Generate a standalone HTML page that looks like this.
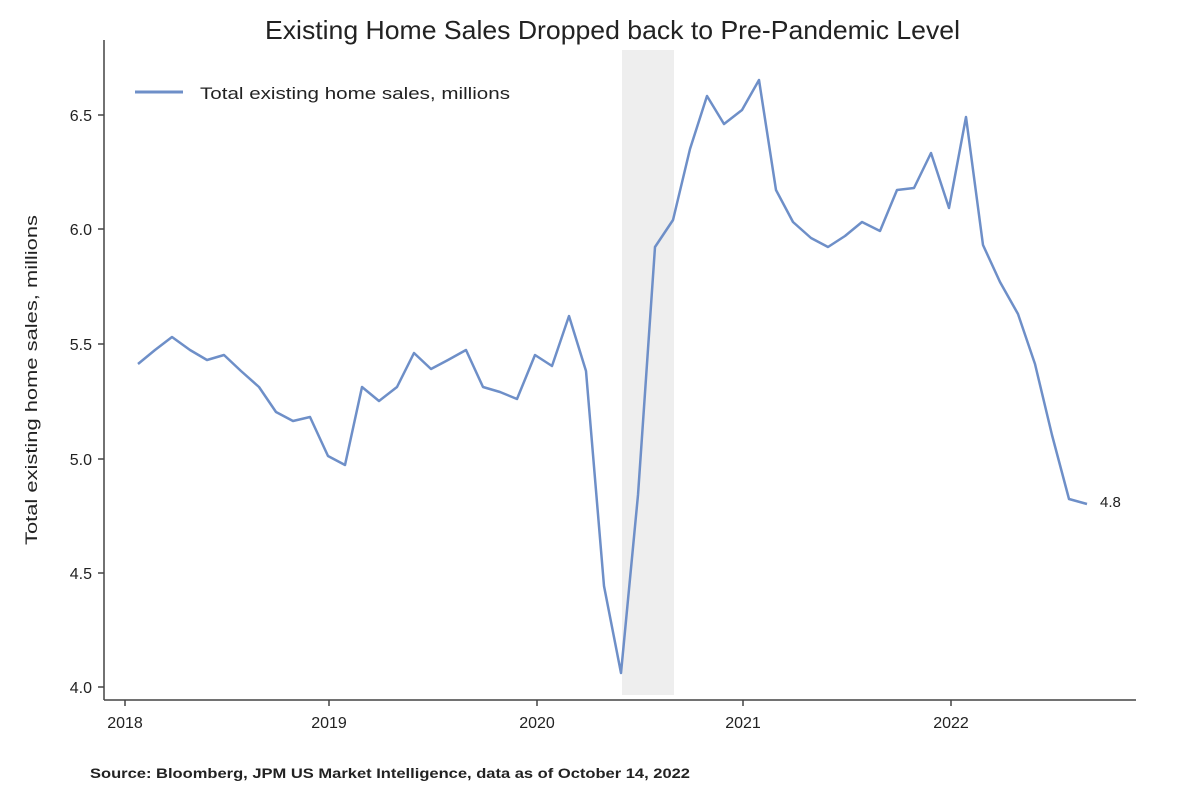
<!DOCTYPE html>
<html><head><meta charset="utf-8"><style>
body{margin:0;background:#fff;}
svg text{font-family:"Liberation Sans",sans-serif;fill:#222;}
</style></head><body>
<svg width="1200" height="800" viewBox="0 0 1200 800" xmlns="http://www.w3.org/2000/svg">
<rect width="1200" height="800" fill="#fff"/>
<text x="265" y="39" font-size="26" textLength="695" lengthAdjust="spacingAndGlyphs">Existing Home Sales Dropped back to Pre-Pandemic Level</text>
<rect x="622" y="50" width="52" height="645" fill="#eeeeee"/>
<line x1="104" y1="40" x2="104" y2="700" stroke="#444" stroke-width="1.5"/>
<line x1="104" y1="700" x2="1136" y2="700" stroke="#444" stroke-width="1.5"/>
<g stroke="#444" stroke-width="1.5">
<line x1="98" y1="115" x2="104" y2="115"/><line x1="98" y1="229" x2="104" y2="229"/><line x1="98" y1="344" x2="104" y2="344"/><line x1="98" y1="459" x2="104" y2="459"/><line x1="98" y1="573" x2="104" y2="573"/><line x1="98" y1="687" x2="104" y2="687"/>
<line x1="125" y1="700" x2="125" y2="706"/><line x1="329" y1="700" x2="329" y2="706"/><line x1="537" y1="700" x2="537" y2="706"/><line x1="743" y1="700" x2="743" y2="706"/><line x1="951" y1="700" x2="951" y2="706"/>
</g>
<g font-size="16" text-anchor="end">
<text x="92" y="121">6.5</text><text x="92" y="235">6.0</text><text x="92" y="350">5.5</text><text x="92" y="465">5.0</text><text x="92" y="579">4.5</text><text x="92" y="693">4.0</text>
</g>
<g font-size="16" text-anchor="middle">
<text x="125" y="728">2018</text><text x="329" y="728">2019</text><text x="537" y="728">2020</text><text x="743" y="728">2021</text><text x="951" y="728">2022</text>
</g>
<text transform="translate(37,545) rotate(-90)" font-size="17" textLength="330" lengthAdjust="spacingAndGlyphs">Total existing home sales, millions</text>
<line x1="135" y1="92" x2="183" y2="92" stroke="#6e8fc8" stroke-width="3"/>
<text x="200" y="99" font-size="17" textLength="310" lengthAdjust="spacingAndGlyphs">Total existing home sales, millions</text>
<polyline fill="none" stroke="#6e8fc8" stroke-width="2.5" stroke-linejoin="round" points="138,364 155,350 172,337 190,350 207,360 224,355 241,371 259,387 276,412 293,421 310,417 328,456 345,465 362,387 379,401 397,387 414,353 431,369 448,360 466,350 483,387 500,392 517,399 535,355 552,366 569,316 586,371 604,586 621,673 638,495 655,247 673,220 690,149 707,96 724,124 742,110 759,80 776,190 793,222 811,238 828,247 845,236 862,222 880,231 897,190 914,188 931,153 949,208 966,117 983,245 1000,282 1018,314 1035,364 1052,435 1069,499 1087,504"/>
<text x="1100" y="507" font-size="15">4.8</text>
<text x="90" y="778" font-size="14" font-weight="bold" textLength="600" lengthAdjust="spacingAndGlyphs">Source: Bloomberg, JPM US Market Intelligence, data as of October 14, 2022</text>
</svg>
</body></html>
